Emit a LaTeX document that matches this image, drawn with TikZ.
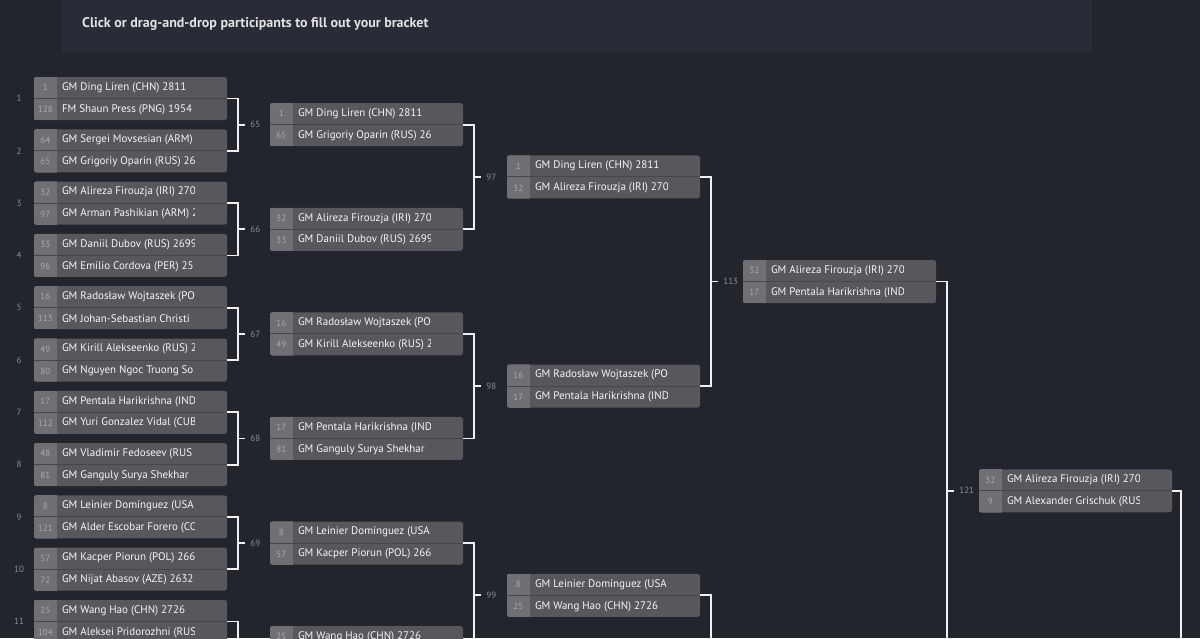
\documentclass[tikz,border=0pt]{standalone}
\usepackage{fontspec}
\setmainfont{PT Sans}
\usetikzlibrary{calc}
\definecolor{bgcol}{HTML}{23252C}
\definecolor{bannercol}{HTML}{292B36}
\definecolor{seedcol}{HTML}{6F6F74}
\definecolor{namecol}{HTML}{57575C}
\definecolor{divcol}{HTML}{46464B}
\definecolor{nametxtcol}{HTML}{F6F6F6}
\definecolor{seedtxtcol}{HTML}{ABABAE}
\definecolor{lblcol}{HTML}{8C8C90}
\definecolor{brkcol}{HTML}{F0F0F0}
\tikzset{
  mbox/.style={rectangle, rounded corners=2.5pt, fill=namecol, draw=none, minimum width=193pt, minimum height=43pt, inner sep=0pt},
  seedtxt/.style={inner sep=0pt, text=seedtxtcol, font=\fontsize{9}{10}\selectfont},
  nametxt/.style={anchor=west, inner sep=0pt, text=nametxtcol, font=\fontsize{11}{13}\selectfont},
  lbl/.style={anchor=west, inner sep=0pt, text=lblcol, font=\fontsize{9}{10}\selectfont},
  mnum/.style={inner sep=0pt, text=lblcol, font=\fontsize{9}{10}\selectfont},
  brk/.style={draw=brkcol, line width=1.8pt},
}
\newcommand\bmatch[7]{%
  \node[mbox] (#1) at (#2,#3) {};
  \begin{scope}
    \clip[rounded corners=2.5pt] (#1.north west) rectangle (#1.south east);
    \fill[seedcol] (#1.north west) rectangle ([xshift=23pt]#1.south west);
  \end{scope}
  \draw[divcol, line width=1pt] (#1.west) -- (#1.east);
  \node[seedtxt] (#1s1) at ([xshift=11.5pt, yshift=-10.75pt]#1.north west) {#4};
  \node[seedtxt] (#1s2) at ([xshift=11.5pt, yshift=10.75pt]#1.south west) {#6};
  \begin{scope}
    \clip ([xshift=28pt]#1.north west) rectangle ([xshift=161pt]#1.south west);
    \node[nametxt] (#1n1) at ([xshift=28pt, yshift=-10.75pt]#1.north west) {#5};
    \node[nametxt] (#1n2) at ([xshift=28pt, yshift=10.75pt]#1.south west) {#7};
  \end{scope}
}
\newcommand\bbr[3]{%
  \draw[brk] (#1) -- ++(11,0) coordinate (v#3) |- (#2);
  \coordinate (t#3) at ($(v#3)!0.5!(v#3|-#2)$);
  \node[lbl] (L#3) at ([xshift=12pt]t#3) {#3};
  \draw[brk] (t#3) -- ([xshift=-5pt]L#3.west);
}
\newcommand\bbrn[2]{%
  \draw[brk] (#1) -- ++(11,0) |- (#2);
}
\begin{document}
\begin{tikzpicture}[x=1pt, y=-1pt]
\useasboundingbox (0,0) rectangle (1200,638);
\clip (0,0) rectangle (1200,638);
\fill[bgcol] (0,0) rectangle (1200,638);
\fill[bannercol] (62,0) rectangle (1092,52);
\node[anchor=west, inner sep=0pt, text=nametxtcol!92!black, font=\fontsize{14}{16}\bfseries] (title) at (82,24) {Click or drag-and-drop participants to fill out your bracket};

% Round 1
\bmatch{a1}{130.5}{98.5}{1}{GM Ding Liren (CHN) 2811}{128}{FM Shaun Press (PNG) 1954}
\bmatch{a2}{130.5}{150.8}{64}{GM Sergei Movsesian (ARM)}{65}{GM Grigoriy Oparin (RUS) 26}
\bmatch{a3}{130.5}{203.1}{32}{GM Alireza Firouzja (IRI) 270}{97}{GM Arman Pashikian (ARM) 2}
\bmatch{a4}{130.5}{255.4}{33}{GM Daniil Dubov (RUS) 2699}{96}{GM Emilio Cordova (PER) 25}
\bmatch{a5}{130.5}{307.7}{16}{GM Radosław Wojtaszek (PO}{113}{GM Johan-Sebastian Christi}
\bmatch{a6}{130.5}{360.0}{49}{GM Kirill Alekseenko (RUS) 2}{80}{GM Nguyen Ngoc Truong So}
\bmatch{a7}{130.5}{412.3}{17}{GM Pentala Harikrishna (IND}{112}{GM Yuri Gonzalez Vidal (CUB}
\bmatch{a8}{130.5}{464.6}{48}{GM Vladimir Fedoseev (RUS}{81}{GM Ganguly Surya Shekhar}
\bmatch{a9}{130.5}{516.9}{8}{GM Leinier Domínguez (USA}{121}{GM Alder Escobar Forero (CO}
\bmatch{a10}{130.5}{569.2}{57}{GM Kacper Piorun (POL) 266}{72}{GM Nijat Abasov (AZE) 2632}
\bmatch{a11}{130.5}{621.5}{25}{GM Wang Hao (CHN) 2726}{104}{GM Aleksei Pridorozhni (RUS}
\coordinate (a12e) at (227,673.8);

% match numbers
\foreach \i/\y in {1/98.5,2/150.8,3/203.1,4/255.4,5/307.7,6/360.0,7/412.3,8/464.6,9/516.9,10/569.2,11/621.5}
  \node[mnum] (n\i) at (19,\y) {\i};

% Round 2
\bmatch{b1}{366.5}{124.65}{1}{GM Ding Liren (CHN) 2811}{65}{GM Grigoriy Oparin (RUS) 26}
\bmatch{b2}{366.5}{229.25}{32}{GM Alireza Firouzja (IRI) 270}{33}{GM Daniil Dubov (RUS) 2699}
\bmatch{b3}{366.5}{333.85}{16}{GM Radosław Wojtaszek (PO}{49}{GM Kirill Alekseenko (RUS) 2}
\bmatch{b4}{366.5}{438.45}{17}{GM Pentala Harikrishna (IND}{81}{GM Ganguly Surya Shekhar}
\bmatch{b5}{366.5}{543.05}{8}{GM Leinier Domínguez (USA}{57}{GM Kacper Piorun (POL) 266}
\bmatch{b6}{366.5}{647.65}{25}{GM Wang Hao (CHN) 2726}{}{}

% Round 3
\bmatch{c1}{603.5}{176.95}{1}{GM Ding Liren (CHN) 2811}{32}{GM Alireza Firouzja (IRI) 270}
\bmatch{c2}{603.5}{386.15}{16}{GM Radosław Wojtaszek (PO}{17}{GM Pentala Harikrishna (IND}
\bmatch{c3}{603.5}{595.35}{8}{GM Leinier Domínguez (USA}{25}{GM Wang Hao (CHN) 2726}
\coordinate (c4e) at (700,1013.8);

% Round 4
\bmatch{d1}{839.5}{281.55}{32}{GM Alireza Firouzja (IRI) 270}{17}{GM Pentala Harikrishna (IND}
\coordinate (d2e) at (936,700);

% Round 5
\bmatch{e1}{1075.5}{490.8}{32}{GM Alireza Firouzja (IRI) 270}{9}{GM Alexander Grischuk (RUS}
\coordinate (e2e) at (1172,1300);

% brackets
\bbr{a1.east}{a2.east}{65}
\bbr{a3.east}{a4.east}{66}
\bbr{a5.east}{a6.east}{67}
\bbr{a7.east}{a8.east}{68}
\bbr{a9.east}{a10.east}{69}
\bbrn{a11.east}{a12e}
\bbr{b1.east}{b2.east}{97}
\bbr{b3.east}{b4.east}{98}
\bbr{b5.east}{b6.east}{99}
\bbr{c1.east}{c2.east}{113}
\bbrn{c3.east}{c4e}
\bbr{d1.east}{d2e}{121}
\draw[brk] (e1.east) -- ++(9,0) |- (e2e);
\end{tikzpicture}
\end{document}
